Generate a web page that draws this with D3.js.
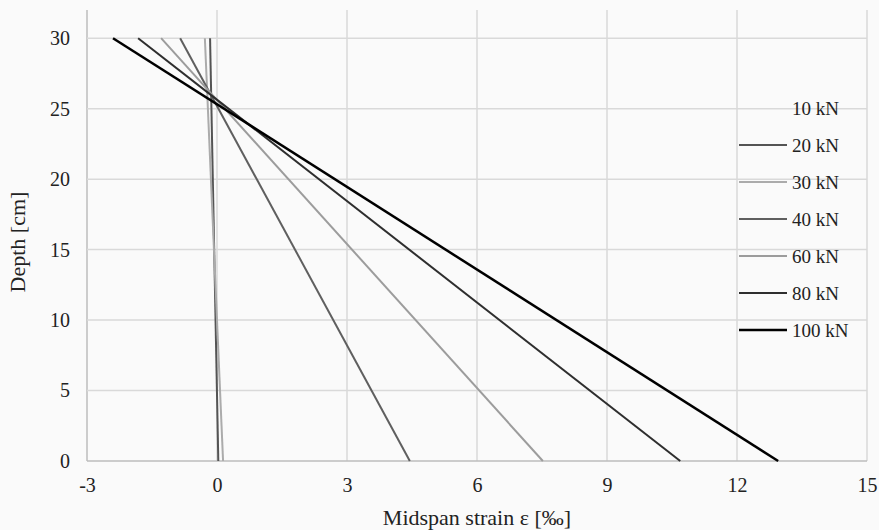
<!DOCTYPE html>
<html>
<head>
<meta charset="utf-8">
<script src="https://cdn.jsdelivr.net/npm/d3@7"></script>
<style>
  body { margin: 0; background: #fafafa; }
  text { font-family: "Liberation Serif", "Times New Roman", serif; fill: #222; }
</style>
</head>
<body>
<svg id="chart"></svg>
<script>
// chart data
const loads = ["10 kN", "20 kN", "30 kN", "40 kN", "60 kN", "80 kN", "100 kN"];
const depths = [30, 0];
const strainTop = [-0.08, -0.16, -0.28, -0.85, -1.29, -1.82, -2.4];
const strainBottom = [0.02, 0.03, 0.14, 4.45, 7.52, 10.69, 12.95];
const lineColors = ["none", "#545454", "#ababab", "#5f5f5f", "#9c9c9c", "#2e2e2e", "#000000"];
const xTicks = [-3, 0, 3, 6, 9, 12, 15];
const yTicks = [0, 5, 10, 15, 20, 25, 30];

const canvWidth = 879;
const canvHeight = 530;
const margin = { top: 10, right: 12, bottom: 69, left: 87 };
const width = canvWidth - margin.left - margin.right;
const height = canvHeight - margin.top - margin.bottom;

const svg = d3.select("#chart")
    .attr("width", canvWidth)
    .attr("height", canvHeight);

const g = svg.append("g")
    .attr("transform", "translate(" + margin.left + "," + margin.top + ")");

const x = d3.scaleLinear().domain([-3, 15]).range([0, width]);
const y = d3.scaleLinear().domain([0, 32]).range([height, 0]);

// gridlines
g.selectAll(".vgrid")
    .data(xTicks)
    .enter().append("line")
    .attr("x1", d => x(d)).attr("x2", d => x(d))
    .attr("y1", 0).attr("y2", height)
    .attr("stroke", d => d === -3 ? "#bdbdbd" : "#d9d9d9")
    .attr("stroke-width", 1.5);

g.selectAll(".hgrid")
    .data(yTicks)
    .enter().append("line")
    .attr("x1", 0).attr("x2", width)
    .attr("y1", d => y(d)).attr("y2", d => y(d))
    .attr("stroke", d => d === 0 ? "#bdbdbd" : "#d9d9d9")
    .attr("stroke-width", 1.5);

// axes (labels only)
const xAxis = g.append("g")
    .attr("transform", "translate(0," + height + ")")
    .call(d3.axisBottom(x).tickValues(xTicks).tickSize(0).tickPadding(17)
        .tickFormat(d => String(d)));
xAxis.select(".domain").remove();
xAxis.attr("font-family", null);
xAxis.selectAll("text").style("font-size", "20px");

const yAxis = g.append("g")
    .call(d3.axisLeft(y).tickValues(yTicks).tickSize(0).tickPadding(17));
yAxis.select(".domain").remove();
yAxis.attr("font-family", null);
yAxis.selectAll("text").style("font-size", "20px");

// lines
const series = loads.map((name, i) => ({
    name: name,
    color: lineColors[i],
    points: depths.map((dep, j) => ({ depth: dep, strain: j === 0 ? strainTop[i] : strainBottom[i] }))
}));

const line = d3.line()
    .x(d => x(d.strain))
    .y(d => y(d.depth));

g.selectAll(".series")
    .data(series)
    .enter().append("path")
    .attr("d", d => line(d.points))
    .attr("fill", "none")
    .attr("stroke", d => d.color)
    .attr("stroke-width", (d, i) => i === loads.length - 1 ? 2.5 : 2);

// legend
const legend = svg.append("g")
    .attr("transform", "translate(739,108)");

const items = legend.selectAll(".item")
    .data(series)
    .enter().append("g")
    .attr("transform", (d, i) => "translate(0," + i * 37 + ")");

items.append("line")
    .attr("x1", 0).attr("x2", 48)
    .attr("y1", 0).attr("y2", 0)
    .attr("stroke", d => d.color)
    .attr("stroke-width", (d, i) => i === loads.length - 1 ? 2.5 : 2);

items.append("text")
    .attr("x", 53)
    .attr("dy", "0.35em")
    .style("font-size", "19px")
    .text(d => d.name);

// axis titles
svg.append("text")
    .attr("x", 477)
    .attr("y", 517)
    .attr("dy", "0.35em")
    .attr("text-anchor", "middle")
    .style("font-size", "22px")
    .text("Midspan strain ε [‰]");

svg.append("text")
    .attr("transform", "translate(17,242) rotate(-90)")
    .attr("dy", "0.35em")
    .attr("text-anchor", "middle")
    .style("font-size", "22px")
    .text("Depth [cm]");
</script>
</body>
</html>
